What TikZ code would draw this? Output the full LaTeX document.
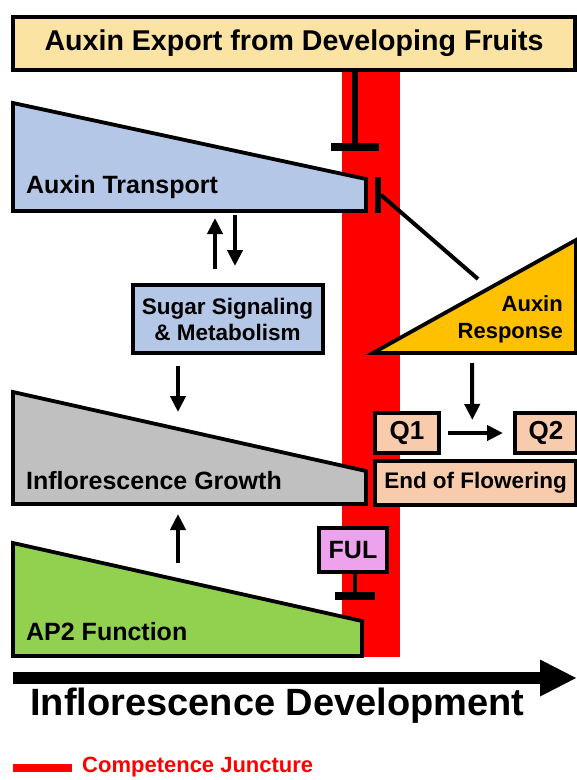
\documentclass[tikz,border=0pt]{standalone}
\usepackage{fontspec}
\setmainfont{Liberation Sans}
\usetikzlibrary{arrows.meta,positioning,calc}
\definecolor{exportcol}{RGB}{251,227,163}
\definecolor{transcol}{RGB}{180,199,231}
\definecolor{growcol}{RGB}{192,192,192}
\definecolor{ap2col}{RGB}{146,208,80}
\definecolor{respcol}{RGB}{255,192,0}
\definecolor{qcol}{RGB}{248,203,173}
\definecolor{fulcol}{RGB}{238,162,238}
\definecolor{junccol}{RGB}{255,0,0}
\tikzset{
  % wedge showing a rising or falling level
  wedge/.style={draw=black, line width=3.8pt, line join=miter, fill=#1},
  % text inside a wedge
  wlabel/.style={font=\fontsize{25}{29}\selectfont\bfseries, inner sep=0pt, #1},
  wlabel/.default={anchor=west},
  % labelled box
  lbox/.style={rectangle, draw=black, line width=4pt, fill=#1, align=center,
               font=\fontsize{22.5}{26}\selectfont\bfseries, inner sep=2pt},
  lbox/.default={white},
  % promoting arrow
  act/.style={-{Triangle[length=16pt,width=15pt]}, line width=4pt},
  % repressing line
  inh/.style={-{Bar[width=#1,line width=8pt]}, line width=6pt},
  inh/.default={48pt},
  % time axis
  devarrow/.style={-{Triangle[length=37pt,width=34pt]}, line width=12pt},
}
\begin{document}
\begin{tikzpicture}[x=1pt,y=-1pt]
  \useasboundingbox (0,0) rectangle (577,780);
  % competence juncture
  \fill[junccol] (342,70) rectangle (400,657);
  % top box
  \node[lbox=exportcol, minimum width=562pt, minimum height=53pt,
        font=\fontsize{28.6}{32}\selectfont\bfseries] (export) at (294,43.5)
    {Auxin Export from Developing Fruits};
  % wedges
  \draw[wedge=transcol] (13,103) -- (366,179) -- (366,211) -- (13,211) -- cycle;
  \node[wlabel] (translab) at (26,187) {Auxin Transport};
  \draw[wedge=growcol] (13,392) -- (366,471) -- (366,504) -- (13,504) -- cycle;
  \node[wlabel] (growlab) at (26,481) {Inflorescence Growth};
  \draw[wedge=ap2col] (13,543) -- (362,621) -- (362,656) -- (13,656) -- cycle;
  \node[wlabel] (ap2lab) at (26,632) {AP2 Function};
  \draw[wedge=respcol] (373,353) -- (576,240) -- (576,353) -- cycle;
  \node[wlabel={anchor=east, align=right}, font=\fontsize{22}{27}\selectfont\bfseries]
    (resplab) at (563,319) {Auxin\\Response};
  % boxes
  \node[lbox=transcol, minimum width=190pt, minimum height=68pt] (sugar) at (227.5,319)
    {Sugar Signaling\\\& Metabolism};
  \node[lbox=qcol, minimum width=64pt, minimum height=40pt,
        font=\fontsize{26}{30}\selectfont\bfseries] (q1) at (407,433) {Q1};
  \node[lbox=qcol, minimum width=62pt, minimum height=40pt,
        font=\fontsize{26}{30}\selectfont\bfseries] (q2) at (546,433) {Q2};
  \node[lbox=qcol, minimum width=201pt, minimum height=44pt] (eof) at (475.5,483) {End of Flowering};
  \node[lbox=fulcol, minimum width=68pt, minimum height=44pt,
        font=\fontsize{25}{29}\selectfont\bfseries] (ful) at (353,550) {FUL};
  % named points
  \coordinate (expT) at (355,151);
  \coordinate (trT) at (378,195);
  \coordinate (respT) at (478,279);
  \coordinate (respA) at (472,363);
  \coordinate (ap2A) at (178,563);
  \coordinate (growA) at (178,514);
  \coordinate (fulT) at (355,600);
  % regulation
  \draw[inh] (export.south -| expT) -- (expT);
  \draw[line width=6pt] ([yshift=18pt]trT) -- ([yshift=-18pt]trT);
  \draw[line width=4pt] (respT) -- ([xshift=3pt]trT);
  \draw[act] ([xshift=-12.5pt,yshift=14pt]sugar.north) -- ++(0,-51);
  \draw[act] ([xshift=7.5pt,yshift=68pt]sugar.north) -- ++(0,51);
  \draw[act] ([xshift=-49.5pt,yshift=-11pt]sugar.south) -- ++(0,46);
  \draw[act] (ap2A) -- (growA);
  \draw[act] (respA) -- ([yshift=13pt]$(q1)!0.47!(q2)$);
  \draw[act, shorten <=7pt, shorten >=10pt] (q1) -- (q2);
  \draw[inh=40pt, line width=4.5pt] (ful.south -| fulT) -- (fulT);
  % development axis
  \coordinate (devS) at (13,678);
  \coordinate (devE) at (577,678);
  \draw[devarrow] (devS) -- (devE);
  \node[font=\fontsize{38}{42}\selectfont\bfseries, inner sep=0pt] (devlab) at (277.5,706)
    {Inflorescence Development};
  % legend
  \coordinate (legS) at (13,768);
  \coordinate (legE) at (72,768);
  \draw[junccol, line width=8pt] (legS) -- (legE);
  \node[anchor=west, text=junccol, font=\fontsize{22}{26}\selectfont\bfseries, inner sep=0pt]
    (leglab) at (82,767) {Competence Juncture};
\end{tikzpicture}
\end{document}
